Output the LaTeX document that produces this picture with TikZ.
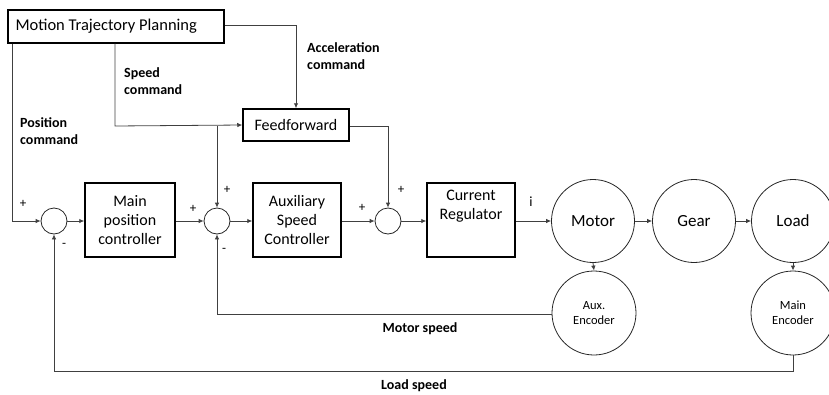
\documentclass[tikz,border=0pt]{standalone}
\usepackage{fontspec}
\setmainfont{Carlito}
\usetikzlibrary{arrows.meta}
\tikzset{
  blk/.style={draw=black, line width=1.5pt, inner sep=0pt, font=\fontsize{16}{19}\selectfont},
  sumc/.style={draw=black!85, line width=0.8pt, circle, minimum size=26pt, inner sep=0pt},
  plant/.style={draw=black!85, line width=0.8pt, circle, minimum size=83pt, inner sep=0pt, font=\fontsize{17}{20}\selectfont},
  enc/.style={draw=black!85, line width=0.8pt, circle, minimum size=84pt, inner sep=0pt, align=center, font=\fontsize{12.5}{15}\selectfont},
  conn/.style={draw=black!75, line width=0.8pt},
  arr/.style={conn, -{Latex[length=5pt,width=4.5pt]}},
  lbl/.style={font=\bfseries\fontsize{14}{17}\selectfont, align=left, anchor=west, inner sep=0pt},
  sgn/.style={font=\fontsize{13}{13}\selectfont, inner sep=0pt},
}
\begin{document}
\begin{tikzpicture}[x=1pt,y=-1pt]
\useasboundingbox (0,0) rectangle (829,394);
% blocks
\node (mtp) [blk, anchor=north west, minimum width=216pt, minimum height=33pt, font=\fontsize{16.5}{19}\selectfont] at (7,9) {Motion Trajectory Planning\hspace*{19pt}};
\node (ff) [blk, minimum width=106pt, minimum height=32pt] at (296,125) {Feedforward};
\node (mpc) [blk, minimum width=90pt, minimum height=74pt, align=center] at (130,220) {Main\\position\\controller};
\node (asc) [blk, minimum width=88pt, minimum height=74pt, align=center] at (297,220) {Auxiliary\\Speed\\Controller};
\node (cr) [blk, minimum width=88pt, minimum height=74pt] at (471,220) {};
\node (crt) [font=\fontsize{16}{19}\selectfont, align=center, inner sep=0pt] at (471,206) {Current\\Regulator};
% summers
\node (s1) [sumc] at (54,221) {};
\node (s2) [sumc] at (217,221) {};
\node (s3) [sumc] at (388,221) {};
% plant
\node (motor) [plant] at (593,221) {Motor};
\node (gear) [plant] at (694,221) {Gear};
\node (load) [plant] at (793,221) {Load};
\node (aenc) [enc] at (594,313) {Aux.\\Encoder};
\node (menc) [enc] at (793,313) {Main\\Encoder};
% corner coordinates
\coordinate (c1) at (296,25);
\coordinate (c2) at (115,126);
\coordinate (c3) at (217,126);
\coordinate (c4) at (388,126);
\coordinate (c5) at (12,221);
\coordinate (c6) at (217,314);
\coordinate (c7) at (793,371);
\coordinate (c8) at (54,371);
% connectors
\draw[arr] (mtp.east |- c1) -- (c1) -- (ff.north);
\draw[arr] (mtp.south -| c2) -- (c2) -- (ff.west);
\draw[arr] (c3) -- (s2.north);
\draw[arr] (ff.east |- c4) -- (c4) -- (s3.north);
\draw[arr] (mtp.south -| c5) -- (c5) -- (s1.west);
\draw[arr] (s1.east) -- (mpc.west |- s1.east);
\draw[arr] (mpc.east |- s2.west) -- (s2.west);
\draw[arr] (s2.east) -- (asc.west |- s2.east);
\draw[arr] (asc.east |- s3.west) -- (s3.west);
\draw[arr] (s3.east) -- (cr.west |- s3.east);
\draw[arr] (cr.east |- motor.west) -- (motor.west);
\draw[arr] (motor.east) -- (gear.west);
\draw[arr] (gear.east) -- (load.west);
\draw[arr] (motor.south) -- (aenc.north);
\draw[arr] (load.south) -- (menc.north);
\draw[arr] (aenc.west |- c6) -- (c6) -- (s2.south);
\draw[arr] (menc.south) -- (c7) -- (c8) -- (s1.south);
% labels
\node (lacc) [lbl] at (307,56) {Acceleration\\command};
\node (lspd) [lbl] at (124,81) {Speed\\command};
\node (lpos) [lbl] at (20,131) {Position\\command};
\node (lms) [lbl, anchor=center] at (420,329) {Motor speed};
\node (lls) [lbl, anchor=center] at (414,386) {Load speed};
\node (li) [sgn, font=\fontsize{14}{14}\selectfont] at (531,202) {i};
\node (p1) [sgn] at (23,204) {+};
\node (m1) [sgn] at (64,245) {-};
\node (p2) [sgn] at (193,209) {+};
\node (p2t) [sgn] at (227,190) {+};
\node (m2) [sgn] at (224,250) {-};
\node (p3) [sgn] at (362,208) {+};
\node (p3t) [sgn] at (401,190) {+};
\end{tikzpicture}
\end{document}
